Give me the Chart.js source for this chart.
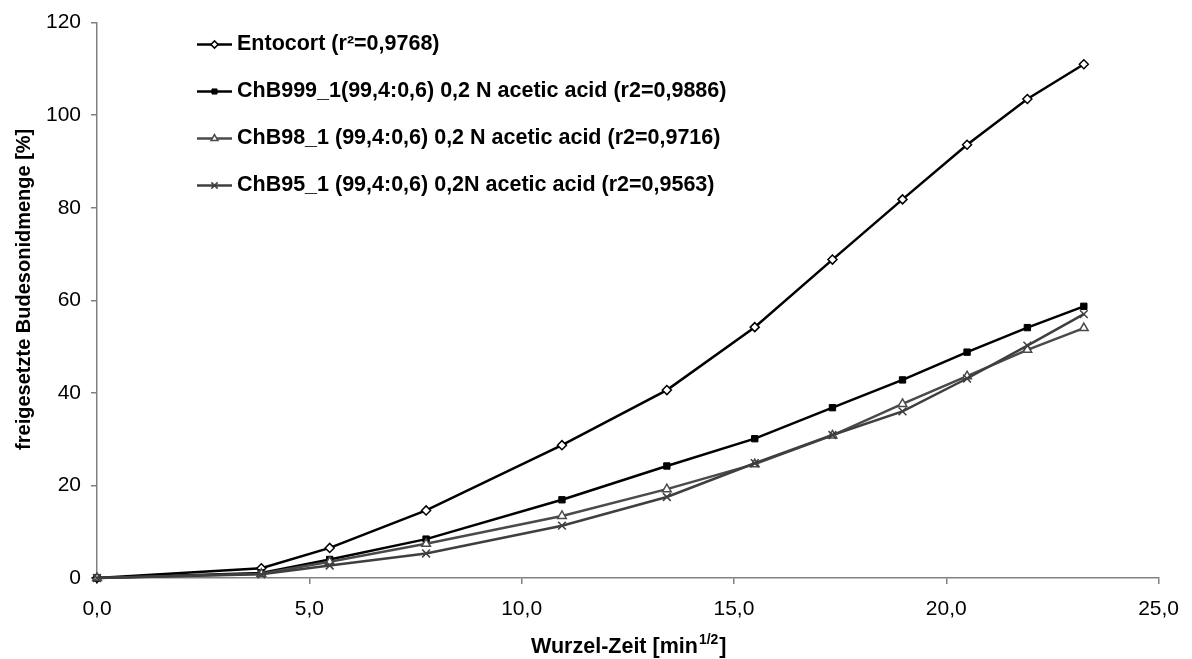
<!DOCTYPE html>
<html><head><meta charset="utf-8">
<script src="https://cdn.jsdelivr.net/npm/chart.js@4"></script>
<style>html,body{margin:0;padding:0;background:#fff;}canvas{display:block;}</style>
</head><body>
<canvas id="c" width="1192" height="659"></canvas>
<script>
const xValues  = [0, 3.87, 5.48, 7.75, 10.95, 13.42, 15.49, 17.32, 18.97, 20.49, 21.91, 23.24];
const entocort = [0, 2.1, 6.5, 14.6, 28.7, 40.6, 54.2, 68.8, 81.8, 93.6, 103.5, 111.0];
const chb999   = [0, 1.1, 4.0, 8.4, 16.9, 24.2, 30.1, 36.8, 42.8, 48.8, 54.1, 58.7];
const chb98    = [0, 0.9, 3.5, 7.4, 13.4, 19.2, 24.6, 30.8, 37.6, 43.6, 49.3, 54.0];
const chb95    = [0, 0.8, 2.7, 5.3, 11.3, 17.5, 24.8, 30.9, 36.0, 43.1, 50.2, 57.0];
const seriesLabels = [
  'Entocort (r\u00B2=0,9768)',
  'ChB999_1(99,4:0,6) 0,2 N acetic acid (r2=0,9886)',
  'ChB98_1 (99,4:0,6) 0,2 N acetic acid (r2=0,9716)',
  'ChB95_1 (99,4:0,6) 0,2N acetic acid (r2=0,9563)'
];
const xTickValues = [0, 5, 10, 15, 20, 25];
const yTickValues = [0, 20, 40, 60, 80, 100, 120];
const xTitleParts = ['Wurzel-Zeit [min', '1/2', ']'];
const yTitle = 'freigesetzte Budesonidmenge [%]';

const FONT = '"Liberation Sans", Arial, sans-serif';
const pts = ys => xValues.map((x, i) => ({x: x, y: ys[i]}));

const styles = [
  {color:'#000000', style:'rectRot', bg:'#ffffff', r:4.5, bw:1.5},
  {color:'#000000', style:'rect', bg:'#000000', r:4.5, bw:1},
  {color:'#4a4a4a', style:'triangle', bg:'#ffffff', r:5, bw:1.5},
  {color:'#3f3f3f', style:'crossRot', bg:'#3f3f3f', r:5.5, bw:1.5}
];
const seriesData = [entocort, chb999, chb98, chb95];

const datasets = seriesData.map((d, i) => ({
  label: seriesLabels[i],
  data: pts(d),
  showLine: true,
  clip: false,
  borderColor: styles[i].color,
  borderWidth: 2.5,
  tension: 0,
  pointStyle: styles[i].style,
  pointRadius: styles[i].r,
  pointBackgroundColor: styles[i].bg,
  pointBorderColor: styles[i].color,
  pointBorderWidth: styles[i].bw,
  order: 3 - i
}));

const overlay = {
  id: 'overlay',
  afterDraw(chart) {
    const ctx = chart.ctx, a = chart.chartArea;
    ctx.save();
    // legend
    const lx0 = 197, lx1 = 232, ltx = 237, ly0 = 44.5, lstep = 47;
    chart.data.datasets.forEach((ds, i) => {
      const y = ly0 + i * lstep;
      ctx.strokeStyle = ds.borderColor; ctx.lineWidth = ds.borderWidth;
      ctx.beginPath(); ctx.moveTo(lx0, y); ctx.lineTo(lx1, y); ctx.stroke();
      ctx.fillStyle = ds.pointBackgroundColor; ctx.strokeStyle = ds.pointBorderColor;
      ctx.lineWidth = ds.pointBorderWidth;
      Chart.helpers.drawPoint(ctx, {pointStyle: ds.pointStyle, rotation: 0, radius: ds.pointRadius * 0.8, borderWidth: ds.pointBorderWidth}, (lx0 + lx1) / 2, y);
      ctx.fillStyle = '#000'; ctx.font = 'bold 21.5px ' + FONT;
      ctx.textAlign = 'left'; ctx.textBaseline = 'middle';
      ctx.fillText(ds.label, ltx, y);
    });
    // x title with superscript
    const big = 'bold 21.5px ' + FONT, small = 'bold 14px ' + FONT;
    ctx.font = big; const w0 = ctx.measureText(xTitleParts[0]).width, w2 = ctx.measureText(xTitleParts[2]).width;
    ctx.font = small; const w1 = ctx.measureText(xTitleParts[1]).width;
    let x = (a.left + a.right) / 2 - (w0 + w1 + w2) / 2;
    const by = 653;
    ctx.textBaseline = 'alphabetic'; ctx.textAlign = 'left';
    ctx.font = big; ctx.fillText(xTitleParts[0], x, by); x += w0;
    ctx.font = small; ctx.fillText(xTitleParts[1], x + 1, by - 9); x += w1 + 2;
    ctx.font = big; ctx.fillText(xTitleParts[2], x, by);
    // y title
    ctx.translate(24, (a.top + a.bottom) / 2 - 11);
    ctx.rotate(-Math.PI / 2);
    ctx.font = 'bold 20px ' + FONT; ctx.textAlign = 'center'; ctx.textBaseline = 'middle';
    ctx.fillText(yTitle, 0, 0);
    ctx.restore();
  }
};

const fmt = v => Number(v).toFixed(1).replace('.', ',');

new Chart(document.getElementById('c'), {
  type: 'scatter',
  data: { datasets: datasets },
  options: {
    responsive: false,
    devicePixelRatio: 1,
    animation: false,
    layout: { padding: { left: 0, right: 30, top: 22, bottom: 0 } },
    plugins: { legend: { display: false }, tooltip: { enabled: false } },
    scales: {
      x: {
        type: 'linear', min: 0, max: 25,
        afterBuildTicks: s => { s.ticks = xTickValues.map(v => ({value: v})); },
        afterFit: s => { s.height = 81; },
        ticks: { callback: v => fmt(v), font: { family: FONT, size: 21 }, color: '#000', padding: 13, maxRotation: 0, autoSkip: false },
        grid: { drawOnChartArea: false, drawTicks: true, tickLength: 6, color: '#808080', lineWidth: 1.5 },
        border: { color: '#808080', width: 1.5 }
      },
      y: {
        type: 'linear', min: 0, max: 120,
        afterBuildTicks: s => { s.ticks = yTickValues.map(v => ({value: v})); },
        afterFit: s => { s.width = 97; },
        ticks: { callback: v => String(v), font: { family: FONT, size: 21 }, color: '#000', padding: 10, autoSkip: false },
        grid: { drawOnChartArea: false, drawTicks: true, tickLength: 6, color: '#808080', lineWidth: 1.5 },
        border: { color: '#808080', width: 1.5 }
      }
    }
  },
  plugins: [overlay]
});
</script>
</body></html>
